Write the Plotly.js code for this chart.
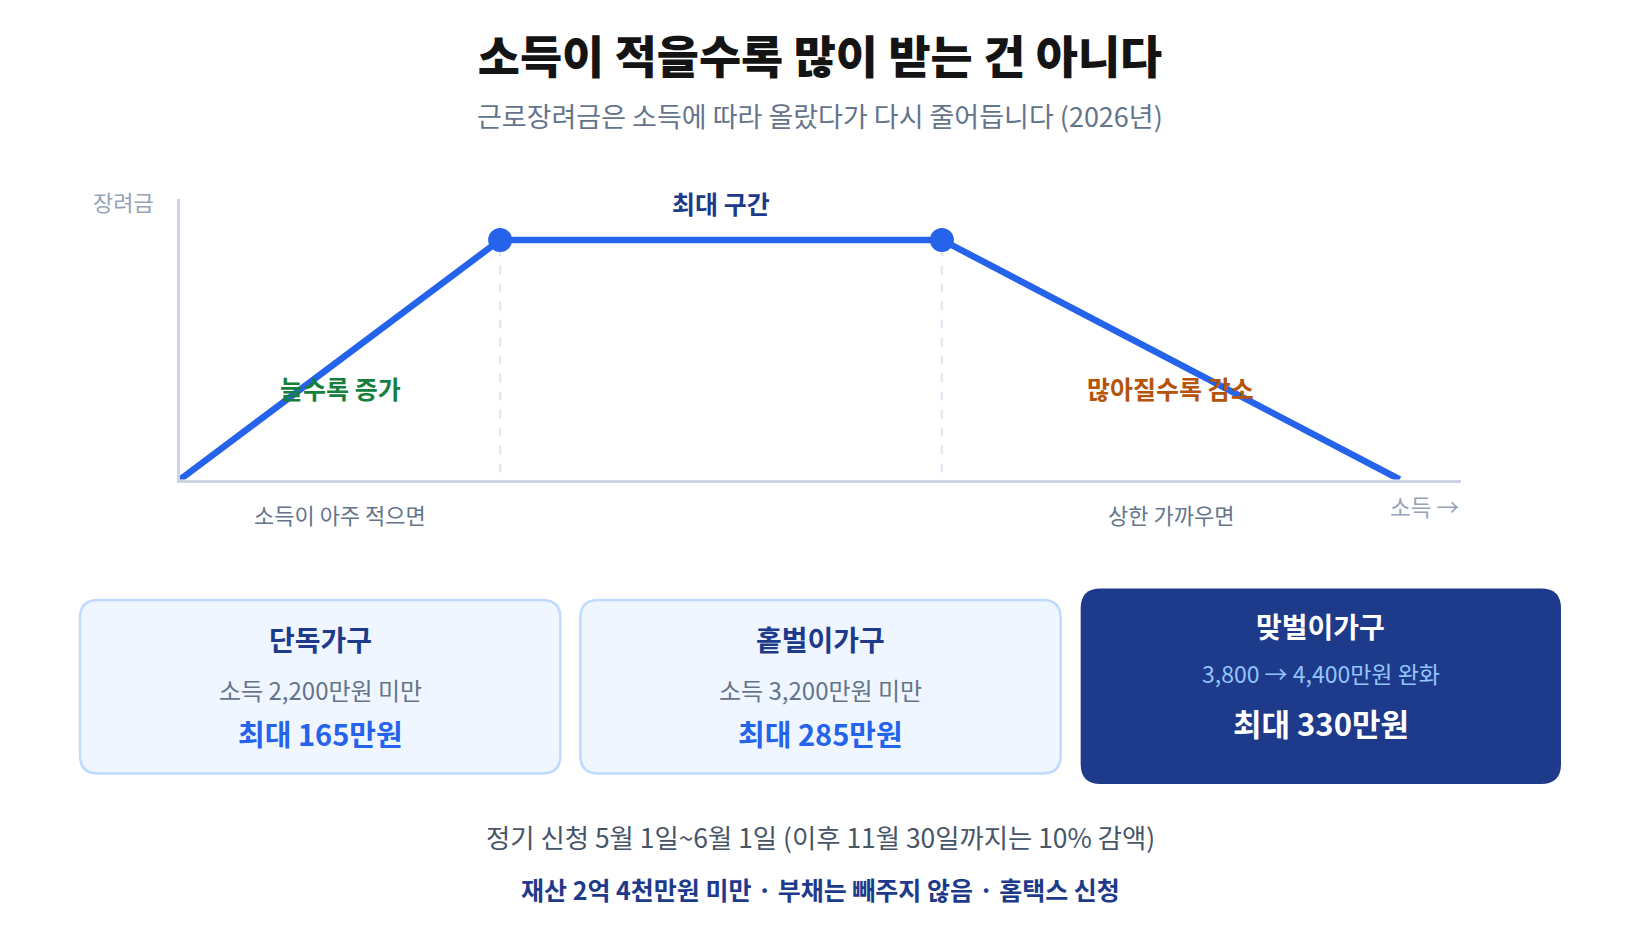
<!DOCTYPE html>
<html>
<head>
<meta charset="utf-8">
<script src="https://cdn.plot.ly/plotly-3.0.1.min.js"></script>
<style>
html,body{margin:0;padding:0;background:#fff;}
#chart{width:1640px;height:940px;}
</style>
</head>
<body>
<div id="chart"></div>
<script>
// ---- data ----
const incomeX = [0, 10, 23.8, 38.1];          // schematic income positions
const amountY = [0, 85.4, 85.4, 0];           // schematic credit amount
const phaseLabels = ['늘수록 증가', '최대 구간', '많아질수록 감소'];
const edgeLabels = ['소득이 아주 적으면', '상한 가까우면'];
const cardTitles = ['단독가구', '홑벌이가구', '맞벌이가구'];
const cardIncomes = ['소득 2,200만원 미만', '소득 3,200만원 미만', '3,800 → 4,400만원 완화'];
const cardMax = ['최대 165만원', '최대 285만원', '최대 330만원'];
const titleText = '소득이 적을수록 많이 받는 건 아니다';
const subtitleText = '근로장려금은 소득에 따라 올랐다가 다시 줄어듭니다 (2026년)';
const footnote1 = '정기 신청 5월 1일~6월 1일 (이후 11월 30일까지는 10% 감액)';
const footnote2 = '재산 2억 4천만원 미만 · 부채는 빼주지 않음 · 홈택스 신청';
const yAxisLabel = '장려금';
const xAxisLabel = '소득 →';

// ---- layout helpers ----
const W = 1640, H = 940;
const px = x => x / W;
const py = y => 1 - y / H;
const FONT = '"Noto Sans CJK KR", "Noto Sans", sans-serif';

function roundRect(x0, y0, x1, y1, r) {
  const X = v => px(v).toFixed(5), Y = v => py(v).toFixed(5);
  return 'M' + X(x0 + r) + ',' + Y(y0) +
    ' L' + X(x1 - r) + ',' + Y(y0) +
    ' Q' + X(x1) + ',' + Y(y0) + ' ' + X(x1) + ',' + Y(y0 + r) +
    ' L' + X(x1) + ',' + Y(y1 - r) +
    ' Q' + X(x1) + ',' + Y(y1) + ' ' + X(x1 - r) + ',' + Y(y1) +
    ' L' + X(x0 + r) + ',' + Y(y1) +
    ' Q' + X(x0) + ',' + Y(y1) + ' ' + X(x0) + ',' + Y(y1 - r) +
    ' L' + X(x0) + ',' + Y(y0 + r) +
    ' Q' + X(x0) + ',' + Y(y0) + ' ' + X(x0 + r) + ',' + Y(y0) + ' Z';
}

const markerSizes = incomeX.map((_, i) => (i === 0 || i === incomeX.length - 1) ? 0 : 24);

const traces = [{
  type: 'scatter',
  mode: 'lines+markers',
  x: incomeX,
  y: amountY,
  line: {color: '#2563eb', width: 6.5},
  marker: {color: '#2563eb', size: markerSizes, opacity: 1, line: {width: 0}},
  cliponaxis: false,
  hoverinfo: 'skip',
  showlegend: false
}];

const shapes = [];
const annotations = [];

// dashed guides under the plateau corners
[1, 2].forEach(i => {
  shapes.push({
    type: 'line', xref: 'x', yref: 'y',
    x0: incomeX[i], x1: incomeX[i], y0: 2.5, y1: amountY[i] - 4,
    line: {color: '#e2e8f0', width: 2.5, dash: 'dash'}, layer: 'below'
  });
});

// phase labels
const phaseX = [(incomeX[0] + incomeX[1]) / 2, (incomeX[1] + incomeX[2]) / 2, (incomeX[2] + incomeX[3]) / 2];
const phaseYpx = [388, 203.5, 388];
const phaseColors = ['#15803d', '#1e3a8a', '#b45309'];
phaseLabels.forEach((t, i) => {
  annotations.push({
    text: '<b>' + t + '</b>', xref: 'x', yref: 'paper', x: phaseX[i], y: py(phaseYpx[i]),
    showarrow: false, xanchor: 'center', yanchor: 'middle',
    font: {family: FONT, size: 25, color: phaseColors[i]}
  });
});
// edge labels under the x axis
[phaseX[0], phaseX[2]].forEach((xv, i) => {
  annotations.push({
    text: edgeLabels[i], xref: 'x', yref: 'paper', x: xv, y: py(513.5),
    showarrow: false, xanchor: 'center', yanchor: 'middle',
    font: {family: FONT, size: 22, color: '#64748b'}
  });
});
// axis labels
annotations.push({
  text: yAxisLabel, xref: 'paper', yref: 'paper', x: px(123.5), y: py(201),
  showarrow: false, xanchor: 'center', yanchor: 'middle',
  font: {family: FONT, size: 22, color: '#94a3b8'}
});
annotations.push({
  text: xAxisLabel, xref: 'paper', yref: 'paper', x: px(1461), y: py(505.5),
  showarrow: false, xanchor: 'right', yanchor: 'middle',
  font: {family: FONT, size: 22.5, color: '#94a3b8'}
});

// subtitle
annotations.push({
  text: subtitleText, xref: 'paper', yref: 'paper', x: 0.5, y: py(115),
  showarrow: false, xanchor: 'center', yanchor: 'middle',
  font: {family: FONT, size: 27, color: '#64748b'}
});

// cards
const cardLeft = 80, cardGap = 20, cardRight = 1561;
const cardW = (cardRight - cardLeft - 2 * cardGap) / 3;
cardTitles.forEach((t, i) => {
  const x0 = cardLeft + i * (cardW + cardGap), x1 = x0 + cardW;
  const cx = (x0 + x1) / 2;
  const featured = i === cardTitles.length - 1;
  if (featured) {
    shapes.push({type: 'path', xref: 'paper', yref: 'paper', path: roundRect(x0, 588.5, x1, 784, 20),
      fillcolor: '#1e3a8a', line: {width: 0}});
  } else {
    shapes.push({type: 'path', xref: 'paper', yref: 'paper', path: roundRect(x0, 600, x1, 773.5, 18),
      fillcolor: '#eff6ff', line: {color: '#bfdbfe', width: 2.5}});
  }
  const ys = featured ? [626, 673, 722.5] : [638.5, 689, 733];
  annotations.push({
    text: '<b>' + t + '</b>', xref: 'paper', yref: 'paper', x: px(cx), y: py(ys[0]),
    showarrow: false, xanchor: 'center', yanchor: 'middle',
    font: {family: FONT, size: 28, color: featured ? '#ffffff' : '#1e3a8a'}
  });
  annotations.push({
    text: cardIncomes[i], xref: 'paper', yref: 'paper', x: px(cx), y: py(ys[1]),
    showarrow: false, xanchor: 'center', yanchor: 'middle',
    font: {family: FONT, size: featured ? 23 : 24, color: featured ? '#93c5fd' : '#64748b'}
  });
  annotations.push({
    text: '<b>' + cardMax[i] + '</b>', xref: 'paper', yref: 'paper', x: px(cx), y: py(ys[2]),
    showarrow: false, xanchor: 'center', yanchor: 'middle',
    font: {family: FONT, size: featured ? 31 : 29, color: featured ? '#ffffff' : '#2563eb'}
  });
});

// footnotes
annotations.push({
  text: footnote1, xref: 'paper', yref: 'paper', x: 0.5, y: py(836.5),
  showarrow: false, xanchor: 'center', yanchor: 'middle',
  font: {family: FONT, size: 26.4, color: '#475569'}
});
annotations.push({
  text: '<b>' + footnote2 + '</b>', xref: 'paper', yref: 'paper', x: 0.5, y: py(889),
  showarrow: false, xanchor: 'center', yanchor: 'middle',
  font: {family: FONT, size: 25, color: '#1e3a8a'}
});

const layout = {
  width: W, height: H,
  margin: {l: 0, r: 0, t: 0, b: 0},
  paper_bgcolor: '#ffffff', plot_bgcolor: 'rgba(0,0,0,0)',
  font: {family: FONT},
  title: {
    text: titleText, x: 0.5, xanchor: 'center',
    y: py(57.6), yanchor: 'middle', yref: 'container',
    font: {family: FONT, size: 45.8, color: '#141414', weight: 900}
  },
  xaxis: {
    domain: [px(180), px(1460.5)], range: [0, 40],
    showline: true, linecolor: '#cbd5e1', linewidth: 3,
    showgrid: false, zeroline: false, showticklabels: false, ticks: '', fixedrange: true
  },
  yaxis: {
    domain: [py(479.5), py(199)], range: [0, 100],
    showline: true, linecolor: '#cbd5e1', linewidth: 3,
    showgrid: false, zeroline: false, showticklabels: false, ticks: '', fixedrange: true
  },
  shapes: shapes,
  annotations: annotations,
  showlegend: false
};

Plotly.newPlot('chart', traces, layout, {displayModeBar: false, staticPlot: true});
</script>
</body>
</html>
